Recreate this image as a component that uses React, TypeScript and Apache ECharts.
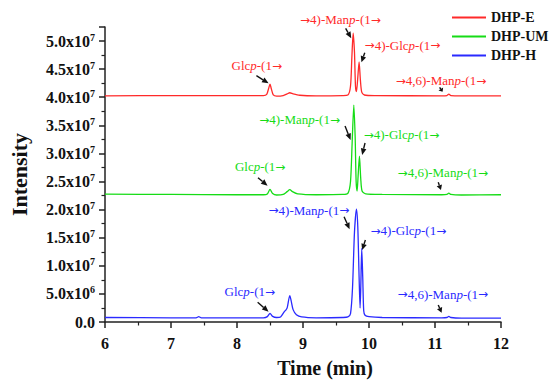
import React, { useEffect, useRef } from "react";
import * as echarts from "echarts";

// Retention time (min) and intensity (in units of 1e6 counts)
const seriesNames = ["DHP-E", "DHP-UM", "DHP-H"];
const seriesColors = ["#ff2a2a", "#16dc16", "#2a2aff"];

const dhpE: [number, number][] = [
  [6.0, 40.25], [7.0, 40.3], [8.0, 40.3], [8.4, 40.3], [8.45, 40.5], [8.48, 41.6], [8.5, 42.35],
  [8.52, 41.5], [8.55, 40.4], [8.6, 40.2], [8.7, 40.3], [8.76, 40.6], [8.8, 40.8], [8.85, 40.6],
  [8.95, 40.35], [9.2, 40.25], [9.6, 40.3], [9.68, 40.4], [9.72, 42.0], [9.74, 47.0], [9.76, 51.4],
  [9.78, 48.0], [9.795, 42.0], [9.81, 41.0], [9.83, 43.5], [9.85, 46.3], [9.87, 43.0], [9.89, 40.9],
  [9.93, 40.4], [10.1, 40.3], [11.1, 40.25], [11.18, 40.3], [11.21, 40.55], [11.24, 40.3],
  [11.4, 40.25], [12.0, 40.25],
];

const dhpUM: [number, number][] = [
  [6.0, 22.75], [7.0, 22.7], [8.0, 22.65], [8.4, 22.65], [8.46, 22.8], [8.5, 23.6], [8.54, 22.85],
  [8.6, 22.6], [8.7, 22.7], [8.76, 23.2], [8.8, 23.55], [8.84, 23.2], [8.92, 22.8], [9.2, 22.65],
  [9.6, 22.7], [9.68, 22.9], [9.72, 25.0], [9.745, 32.0], [9.77, 38.6], [9.79, 33.0], [9.805, 25.0],
  [9.82, 23.3], [9.835, 26.0], [9.855, 29.5], [9.875, 25.5], [9.895, 23.3], [9.95, 22.8],
  [10.2, 22.7], [11.1, 22.65], [11.18, 22.7], [11.21, 22.95], [11.24, 22.7], [11.4, 22.6],
  [12.0, 22.65],
];

const dhpH: [number, number][] = [
  [6.0, 0.8], [7.0, 0.75], [7.38, 0.75], [7.42, 0.95], [7.46, 0.75], [8.0, 0.75], [8.4, 0.75],
  [8.46, 0.95], [8.5, 1.55], [8.54, 1.0], [8.6, 0.8], [8.66, 0.9], [8.72, 1.9], [8.74, 2.1],
  [8.76, 2.5], [8.8, 4.7], [8.82, 3.8], [8.85, 2.2], [8.9, 1.3], [8.98, 0.9], [9.2, 0.75],
  [9.6, 0.8], [9.68, 0.9], [9.72, 1.5], [9.75, 6.0], [9.78, 16.0], [9.81, 20.1], [9.83, 17.0],
  [9.85, 8.0], [9.865, 2.5], [9.875, 6.0], [9.89, 13.1], [9.905, 8.0], [9.92, 2.0], [9.94, 1.2],
  [10.0, 0.95], [10.2, 0.8], [11.1, 0.75], [11.18, 0.8], [11.21, 1.0], [11.24, 0.8], [11.4, 0.7],
  [12.0, 0.7],
];

const seriesData = [dhpE, dhpUM, dhpH];

// Peak annotations: series index, label parts, label anchor and arrow (data coordinates)
// part kinds: "n" normal, "i" italic, "a" arrow glyph
type Part = [string, string];
const glcp: Part[] = [["Glc", "n"], ["p", "i"], ["-(1", "n"], ["→", "a"]];
const man4: Part[] = [["→", "a"], ["4)-Man", "n"], ["p", "i"], ["-(1", "n"], ["→", "a"]];
const glc4: Part[] = [["→", "a"], ["4)-Glc", "n"], ["p", "i"], ["-(1", "n"], ["→", "a"]];
const man46: Part[] = [["→", "a"], ["4,6)-Man", "n"], ["p", "i"], ["-(1", "n"], ["→", "a"]];

const annSeries = [0, 0, 0, 0, 1, 1, 1, 1, 2, 2, 2, 2];
const annParts = [glcp, man4, glc4, man46, man4, glc4, glcp, man46, man4, glc4, glcp, man46];
const annLabel: [number, number][] = [
  [8.299, 45.56], [9.567, 53.75], [10.507, 49.21], [11.09, 42.89],
  [8.948, 35.95], [10.493, 33.28], [8.351, 27.64], [11.119, 26.52],
  [9.09, 19.93], [10.597, 16.2], [8.194, 5.39], [11.119, 4.98],
];
const annArrowFrom: [number, number][] = [
  [8.294, 43.83], [9.646, 52.27], [9.936, 47.93], [11.07, 41.77],
  [9.637, 34.88], [9.94, 31.86], [8.318, 25.68], [11.049, 24.86],
  [9.622, 18.74], [9.945, 14.59], [8.313, 3.51], [11.049, 3.03],
];
const annArrowTo: [number, number][] = [
  [8.478, 42.48], [9.731, 50.49], [9.885, 46.22], [11.115, 40.99],
  [9.721, 32.39], [9.896, 29.72], [8.463, 24.26], [11.09, 23.49],
  [9.706, 16.5], [9.896, 12.81], [8.478, 1.83], [11.1, 1.66],
];

const SERIF = "'Liberation Serif', 'Times New Roman', serif";

function yLabel(v: number): string {
  const r = Math.round(v * 100) / 100;
  if (Math.abs(r % 5) > 1e-6) return "";
  if (r === 0) return "{b|0.0}";
  const val = r * 1e6;
  const e = Math.floor(Math.log10(val) + 1e-9);
  const m = val / Math.pow(10, e);
  return `{b|${m.toFixed(1)}x10}{s|${e}}`;
}

export default function App() {
  const ref = useRef<HTMLDivElement>(null);
  useEffect(() => {
    document.body.style.margin = "0";
    if (!ref.current) return;
    const chart = echarts.init(ref.current, undefined, { renderer: "svg" });
    chart.setOption({
      animation: false,
      backgroundColor: "#ffffff",
      grid: { left: 99, right: 49, top: 27, bottom: 62 },
      legend: {
        data: seriesNames,
        orient: "vertical",
        left: 447,
        top: 5,
        icon: "rect",
        itemWidth: 34,
        itemHeight: 2,
        itemGap: 4,
        textStyle: { fontFamily: SERIF, fontWeight: "bold", fontSize: 14, color: "#111", lineHeight: 15 },
      },
      xAxis: {
        type: "value",
        min: 6,
        max: 12,
        interval: 1,
        name: "Time (min)",
        nameLocation: "middle",
        nameGap: 36,
        nameTextStyle: { fontFamily: SERIF, fontWeight: "bold", fontSize: 20, color: "#111", padding: [0, 0, 0, 44] },
        axisLine: { lineStyle: { color: "#222", width: 1.5 } },
        axisTick: { inside: false, length: 6, lineStyle: { color: "#222", width: 1.5 } },
        minorTick: { show: true, splitNumber: 2, length: 3.5, lineStyle: { color: "#222", width: 1.2 } },
        splitLine: { show: false },
        axisLabel: { margin: 13, fontFamily: SERIF, fontWeight: "bold", fontSize: 16, color: "#111" },
      },
      yAxis: {
        type: "value",
        min: 0,
        max: 52.5,
        interval: 5,
        name: "Intensity",
        nameLocation: "middle",
        nameGap: 75,
        nameTextStyle: { fontFamily: SERIF, fontWeight: "bold", fontSize: 22, color: "#111" },
        axisLine: { show: true, lineStyle: { color: "#222", width: 1.5 } },
        axisTick: { inside: false, length: 6, lineStyle: { color: "#222", width: 1.5 } },
        minorTick: { show: true, splitNumber: 2, length: 3.5, lineStyle: { color: "#222", width: 1.2 } },
        splitLine: { show: false },
        axisLabel: {
          margin: 10,
          formatter: yLabel,
          rich: {
            b: { fontFamily: SERIF, fontWeight: "bold", fontSize: 16, color: "#111", lineHeight: 18 },
            s: { fontFamily: SERIF, fontWeight: "bold", fontSize: 10, color: "#111", verticalAlign: "top", lineHeight: 10 },
          },
        },
      },
      series: seriesNames.map((name, i) => ({
        name,
        type: "line",
        data: seriesData[i],
        showSymbol: false,
        symbol: "none",
        smooth: 0.25,
        lineStyle: { color: seriesColors[i], width: 1.3 },
        itemStyle: { color: seriesColors[i] },
      })),
    });

    const graphics: any[] = [];
    annLabel.forEach((lab, k) => {
      const color = seriesColors[annSeries[k]];
      const p = chart.convertToPixel({ gridIndex: 0 }, lab) as number[];
      const text = annParts[k].map(([t, kind]) => `{${kind}|${t}}`).join("");
      graphics.push({
        type: "text",
        x: p[0],
        y: p[1],
        silent: true,
        style: {
          text,
          align: "center",
          verticalAlign: "middle",
          textAlign: "center",
          textVerticalAlign: "middle",
          rich: {
            n: { fontFamily: SERIF, fontSize: 13, fill: color, color },
            i: { fontFamily: SERIF, fontSize: 13, fontStyle: "italic", fill: color, color },
            a: { fontFamily: "'DejaVu Sans', sans-serif", fontSize: 12, fill: color, color },
          },
        },
      });
      const a = chart.convertToPixel({ gridIndex: 0 }, annArrowFrom[k]) as number[];
      const b = chart.convertToPixel({ gridIndex: 0 }, annArrowTo[k]) as number[];
      const dx = b[0] - a[0];
      const dy = b[1] - a[1];
      const len = Math.sqrt(dx * dx + dy * dy) || 1;
      const ux = dx / len;
      const uy = dy / len;
      const hl = Math.min(6.5, len * 0.6);
      const hw = 2.8;
      const bx = b[0] - ux * hl;
      const by = b[1] - uy * hl;
      graphics.push({
        type: "line",
        silent: true,
        shape: { x1: a[0], y1: a[1], x2: bx, y2: by },
        style: { stroke: "#111", lineWidth: 1.4 },
      });
      graphics.push({
        type: "polygon",
        silent: true,
        shape: {
          points: [
            [b[0], b[1]],
            [bx - uy * hw, by + ux * hw],
            [bx + uy * hw, by - ux * hw],
          ],
        },
        style: { fill: "#111" },
      });
    });
    chart.setOption({ graphic: graphics });

    return () => chart.dispose();
  }, []);
  return <div ref={ref} style={{ width: 550, height: 384 }} />;
}
